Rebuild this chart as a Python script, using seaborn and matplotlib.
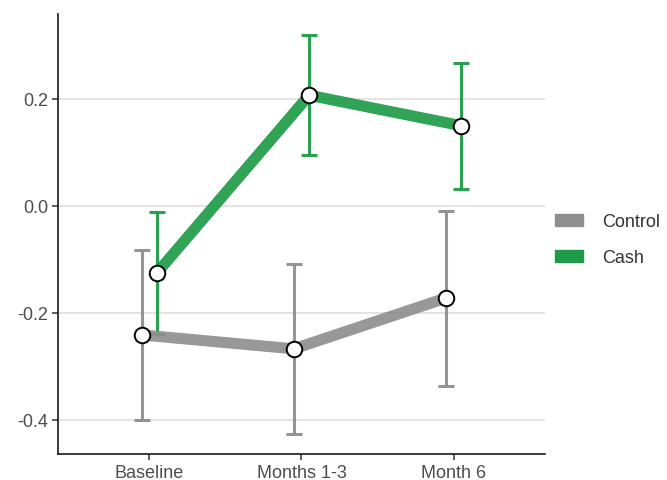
import numpy as np
import pandas as pd
import matplotlib
matplotlib.use("Agg")
import matplotlib.pyplot as plt
from matplotlib.patches import Patch
import seaborn as sns

# Data
PERIODS = ["Baseline", "Months 1-3", "Month 6"]
GROUPS = ["Control", "Cash"]
control_est = [-0.241, -0.267, -0.172]
control_lo = [-0.400, -0.426, -0.336]
control_hi = [-0.082, -0.108, -0.009]
cash_est = [-0.125, 0.207, 0.150]
cash_lo = [-0.239, 0.095, 0.032]
cash_hi = [-0.011, 0.320, 0.267]

COLORS = {"Control": "#8f8f8f", "Cash": "#1f9b48"}
DODGE = {"Control": -0.05, "Cash": 0.05}

rows = []
for g, est, lo, hi in [("Control", control_est, control_lo, control_hi),
                       ("Cash", cash_est, cash_lo, cash_hi)]:
    for i, p in enumerate(PERIODS):
        rows.append({"period": p, "group": g, "est": est[i], "lo": lo[i], "hi": hi[i],
                     "xpos": i + DODGE[g]})
df = pd.DataFrame(rows)

sns.set_style("white")
plt.rcParams['font.family'] = ['Liberation Sans', 'DejaVu Sans']

fig = plt.figure(figsize=(6.67, 4.81), dpi=100)
ax = fig.add_axes([0.087, 0.054, 0.730, 0.915])

# error bars first
for g in GROUPS:
    sub = df[df.group == g]
    ax.errorbar(sub.xpos, sub.est, yerr=[sub.est - sub.lo, sub.hi - sub.est],
                fmt="none", ecolor=COLORS[g], elinewidth=2.2, capsize=5.5,
                capthick=2.2, alpha=0.95, zorder=2)

# thick lines
sns.lineplot(data=df, x="xpos", y="est", hue="group", hue_order=GROUPS,
             palette=COLORS, linewidth=8, alpha=0.92, legend=False,
             ax=ax, zorder=3)

# markers
ax.scatter(df.xpos, df.est, s=125, facecolor="white", edgecolor="black",
           linewidth=1.4, zorder=5)

ax.set_xlim(-0.6, 2.6)
ax.set_ylim(-0.4636, 0.359)
ax.set_xticks(range(len(PERIODS)))
ax.set_xticklabels(PERIODS)
yt = [-0.4, -0.2, 0.0, 0.2]
ax.set_yticks(yt)
ax.set_yticklabels([f"{v:.1f}" for v in yt])
ax.set_xlabel("")
ax.set_ylabel("")

ax.yaxis.grid(True, color="#dcdcdc", linewidth=1.1)
ax.xaxis.grid(False)
ax.set_axisbelow(True)
for s in ["top", "right"]:
    ax.spines[s].set_visible(False)
for s in ["left", "bottom"]:
    ax.spines[s].set_color("#1a1a1a")
    ax.spines[s].set_linewidth(1.2)
ax.tick_params(axis="both", which="major", length=4, width=1.1, color="#333333",
               labelsize=13, labelcolor="#4d4d4d", pad=3, left=True, bottom=True)

handles = [Patch(facecolor=COLORS[g], edgecolor=COLORS[g], label=g) for g in GROUPS]
fig.legend(handles=handles, loc="center left", bbox_to_anchor=(0.807, 0.50),
           frameon=False, fontsize=13, handlelength=1.55, handleheight=0.65,
           labelspacing=1.05, handletextpad=1.1, labelcolor="#333333")

fig.savefig("out.png", dpi=100)
